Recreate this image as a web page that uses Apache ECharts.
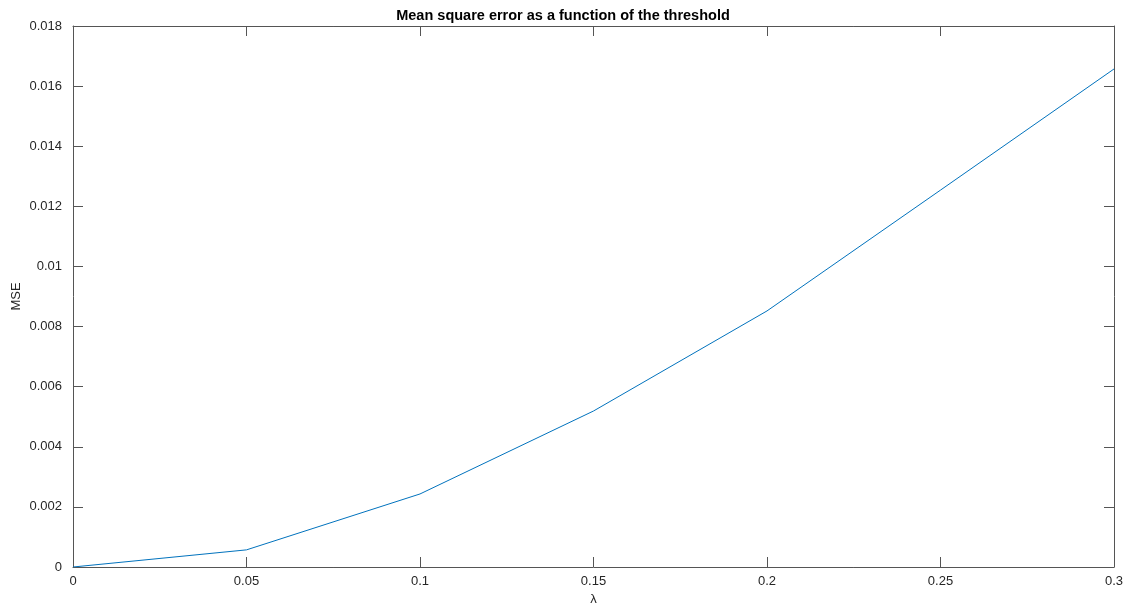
<!DOCTYPE html>
<html lang="en">
<head>
    <meta charset="UTF-8">
    <title>MSE vs threshold</title>
    <script src="https://cdn.jsdelivr.net/npm/echarts@6/dist/echarts.min.js"></script>
    <style>
        html, body { margin: 0; padding: 0; background: #fff; }
    </style>
</head>
<body>
    <div id="main" style="width: 1128px;height:608px;"></div>
<script>
    // data
    var lambdas = [0, 0.05, 0.1, 0.15, 0.2, 0.25, 0.3];
    var mse = [0, 0.00057, 0.00243, 0.00519, 0.00852, 0.01254, 0.01657];

    var pts = lambdas.map(function (x, i) { return [x, mse[i]]; });

    var axisCol = '#262626';
    var lineCol = '#555555';
    var font = 'Helvetica, "Liberation Sans", Arial, sans-serif';

    // box axis (mirrored ticks on top/right, no labels)
    function boxAxis(pos, min, max, interval) {
        return {
            type: 'value', position: pos, min: min, max: max, interval: interval,
            axisLine: { show: true, onZero: false, lineStyle: { color: lineCol, width: 1 } },
            axisTick: { show: true, inside: true, length: 10, lineStyle: { color: lineCol } },
            axisLabel: { show: false },
            splitLine: { show: false }
        };
    }

    var myChart = echarts.init(document.getElementById('main'));
    var option = {
        animation: false,
        title: {
            text: 'Mean square error as a function of the threshold',
            left: 558, top: 3, textAlign: 'center',
            textStyle: { fontFamily: font, fontSize: 14.5, fontWeight: 'bold', color: '#000' }
        },
        grid: { left: 73, right: 14, top: 26, bottom: 41, containLabel: false, outerBoundsMode: 'none' },
        xAxis: [
            {
                type: 'value', min: 0, max: 0.3, interval: 0.05,
                name: 'λ', nameLocation: 'middle', nameGap: 25,
                nameTextStyle: { fontFamily: font, fontSize: 13, color: axisCol },
                axisLine: { show: true, onZero: false, lineStyle: { color: lineCol } },
                axisTick: { show: true, inside: true, length: 10, lineStyle: { color: lineCol } },
                axisLabel: { fontFamily: font, fontSize: 13, color: axisCol, margin: 8 },
                splitLine: { show: false }
            },
            boxAxis('top', 0, 0.3, 0.05)
        ],
        yAxis: [
            {
                type: 'value', min: 0, max: 0.018, interval: 0.002,
                name: 'MSE', nameLocation: 'middle', nameGap: 50, nameMoveOverlap: false,
                nameTextStyle: { fontFamily: font, fontSize: 13, color: axisCol },
                axisLine: { show: true, onZero: false, lineStyle: { color: lineCol } },
                axisTick: { show: true, inside: true, length: 10, lineStyle: { color: lineCol } },
                axisLabel: { fontFamily: font, fontSize: 13, color: axisCol, margin: 11 },
                splitLine: { show: false }
            },
            boxAxis('right', 0, 0.018, 0.002)
        ],
        series: [
            {
                type: 'line',
                data: pts,
                xAxisIndex: 0,
                yAxisIndex: 0,
                showSymbol: false,
                lineStyle: { color: '#0072BD', width: 1 },
                itemStyle: { color: '#0072BD' }
            }
        ]
    };
    myChart.setOption(option);
</script>
</body>
</html>
